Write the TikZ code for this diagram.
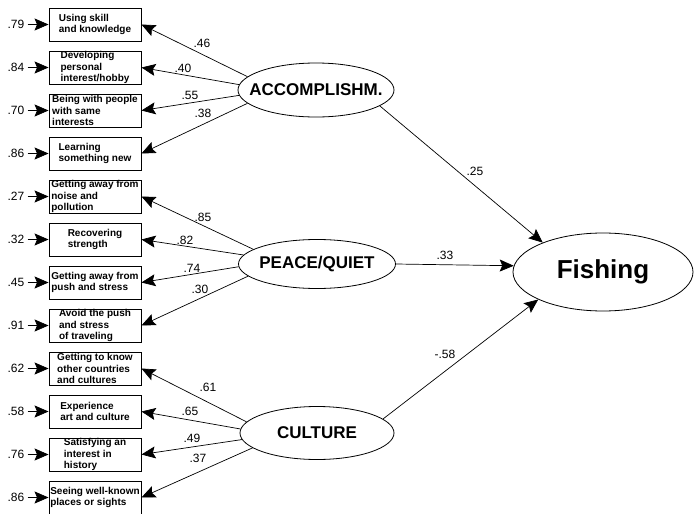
\documentclass[tikz,border=0pt]{standalone}
\usepackage{fontspec}
\setmainfont{Liberation Sans}
\usepackage{tikz}
\usetikzlibrary{arrows.meta,shapes.geometric}
\tikzset{
  ind/.style={draw, line width=0.9pt, minimum width=92pt, minimum height=33pt,
    inner sep=0pt, align=left, font=\fontsize{10}{11.5}\selectfont\bfseries},
  lat/.style={ellipse, draw, line width=0.8pt, inner sep=0pt},
  lattxt/.style={font=\fontsize{17}{20}\selectfont\bfseries},
  num/.style={font=\fontsize{12}{14}\selectfont, inner sep=3pt},
  path/.style={-{Stealth[length=14pt,width=12pt,inset=2.5pt]}, line width=0.7pt}
}
\begin{document}
\begin{tikzpicture}[x=1pt, y=-1pt]
  \useasboundingbox (0,0) rectangle (694,514);
  % indicators with error terms
  \foreach \i/\txt/\err in {
    1/{Using skill\\and knowledge}/.79,
    2/{Developing\\personal\\interest/hobby}/.84,
    3/{Being with people\\with same\\interests}/.70,
    4/{Learning\\something new}/.86,
    5/{Getting away from\\noise and\\pollution}/.27,
    6/{Recovering\\strength}/.32,
    7/{Getting away from\\push and stress}/.45,
    8/{Avoid the push\\and stress\\of traveling}/.91,
    9/{Getting to know\\other countries\\and cultures}/.62,
    10/{Experience\\art and culture}/.58,
    11/{Satisfying an\\interest in\\history}/.76,
    12/{Seeing well-known\\places or sights}/.86}{%
    \node[ind] (b\i) at (95,{24.5+43*(\i-1)}) {\txt};
    \node[num] (e\i) at (16,{24.5+43*(\i-1)}) {\err};
    \draw[path] (e\i) -- (b\i);
  }
  % latent factors
  \node[lat, minimum width=156pt, minimum height=54pt,
    label={[lattxt]center:ACCOMPLISHM.}] (acc) at (316,90) {};
  \node[lat, minimum width=157pt, minimum height=49pt,
    label={[lattxt]center:PEACE/QUIET}] (pq) at (317,264) {};
  \node[lat, minimum width=154pt, minimum height=53pt,
    label={[lattxt]center:CULTURE}] (cul) at (317,433) {};
  \node[lat, minimum width=180pt, minimum height=78pt,
    label={[font=\fontsize{26}{30}\selectfont\bfseries]center:Fishing}] (fish) at (603,272) {};
  % loadings
  \foreach \i/\lat/\a/\w/\lx/\ly in {
    1/acc/169/.46/202/43, 2/acc/176/.40/183/68, 3/acc/184/.55/190/95, 4/acc/191/.38/203/113,
    5/pq/167/.85/203/217, 6/pq/173/.82/185/240, 7/pq/182/.74/192/268, 8/pq/190/.30/200/289,
    9/cul/171/.61/208/387, 10/cul/177/.65/190/411, 11/cul/185/.49/192/438, 12/cul/193/.37/198/458}{%
    \draw[path] (\lat.\a) -- (b\i.east);
    \node[num] (w\i) at (\lx,\ly) {\w};
  }
  % structural paths
  \draw[path] (acc.-14) -- (fish.154);
  \draw[path] (pq.east) -- (fish.176);
  \draw[path] (cul.12) -- (fish.203);
  \node[num] (g1) at (475,171) {.25};
  \node[num] (g2) at (445,255) {.33};
  \node[num] (g3) at (445,354) {-.58};
\end{tikzpicture}
\end{document}
